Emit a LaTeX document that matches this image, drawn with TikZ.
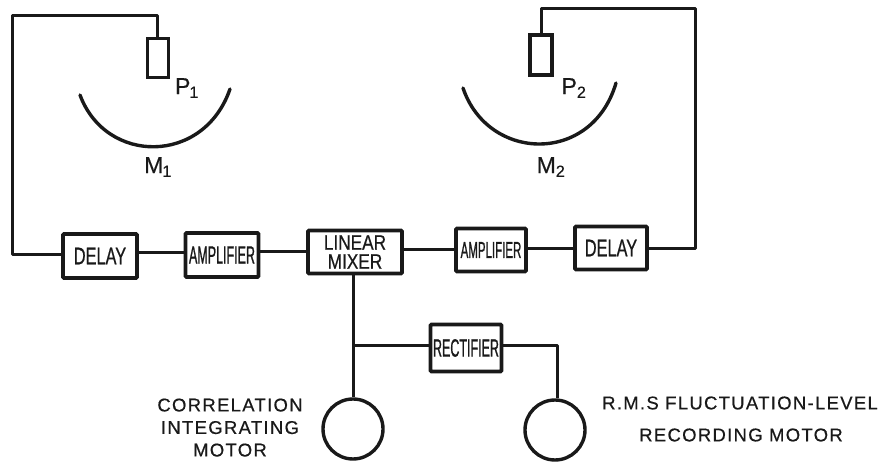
\documentclass[tikz,border=0pt]{standalone}
\usepackage{fontspec}
\setmainfont{Liberation Sans}
\newfontfamily\narrowA[FakeStretch=0.5,FakeBold=0.8]{Liberation Sans}
\newfontfamily\narrowB[FakeStretch=0.68,FakeBold=0.6]{Liberation Sans}
\newfontfamily\narrowC[FakeStretch=0.82,FakeBold=0.5]{Liberation Sans}
\newfontfamily\spaced[LetterSpace=7,FakeBold=0.5]{Liberation Sans}
\newfontfamily\heavy[FakeBold=0.4]{Liberation Sans}
\colorlet{ink}{black!90}
\begin{document}
\begin{tikzpicture}[x=1pt,y=-1pt,
box/.style={draw=ink,text=ink,line width=3.6pt,inner sep=0pt,align=center,rounded corners=1pt},
wire/.style={draw=ink,line width=3pt,line join=round},
motor/.style={draw=ink,line width=3.4pt,circle,minimum size=60pt,inner sep=0pt},
probe/.style={draw=ink,line width=3.2pt,inner sep=0pt},
dish/.style={draw=ink,line width=3.4pt,line cap=round},
lab/.style={font=\spaced\fontsize{18.5}{22.5}\selectfont,align=center,text=ink},
big/.style={font=\heavy\fontsize{23}{24}\selectfont,text=ink}]
\useasboundingbox (0,0) rectangle (879,462);
\node[box,minimum width=74pt,minimum height=44pt,font=\narrowB\fontsize{24}{24}\selectfont] (d1) at (100,256) {DELAY};
\node[box,minimum width=73pt,minimum height=44pt,font=\narrowA\fontsize{25}{25}\selectfont] (a1) at (222,255) {AMPLIFIER};
\node[box,minimum width=94pt,minimum height=43pt,font=\narrowC\fontsize{21}{19}\selectfont] (mx) at (355,252) {LINEAR\\MIXER};
\node[box,minimum width=70pt,minimum height=43pt,font=\narrowA\fontsize{23}{23}\selectfont] (a2) at (491,250) {AMPLIFIER};
\node[box,minimum width=72pt,minimum height=43pt,font=\narrowB\fontsize{24}{24}\selectfont] (d2) at (611,248) {DELAY};
\node[box,minimum width=71pt,minimum height=47pt,font=\narrowA\fontsize{25}{25}\selectfont] (rc) at (466,348) {RECTIFIER};
\node[motor] (m1) at (353,429) {};
\node[motor] (m2) at (555,430) {};
\node[probe,minimum width=21pt,minimum height=39pt] (p1) at (158,58) {};
\node[probe,minimum width=22pt,minimum height=40pt] (p2) at (541,55) {};
\coordinate (c1) at (12,255); \coordinate (c2) at (12,16); \coordinate (c3) at (157,16);
\coordinate (c4) at (541,9); \coordinate (c5) at (695,9); \coordinate (c6) at (695,249);
\coordinate (w1) at (0,253); \coordinate (w2) at (0,252); \coordinate (w3) at (0,250); \coordinate (w4) at (0,249);
\coordinate (w5) at (0,346);
\coordinate (j) at (353,346);
\coordinate (r1) at (557,346);
\draw[wire] (d1.west |- c1) -- (c1) -- (c2) -- (c3) -- (c3 |- p1.north);
\draw[wire] (c4 |- p2.north) -- (c4) -- (c5) -- (c6) -- (d2.east |- c6);
\draw[wire] (d1.east |- w1) -- (a1.west |- w1);
\draw[wire] (a1.east |- w2) -- (mx.west |- w2);
\draw[wire] (mx.east |- w3) -- (a2.west |- w3);
\draw[wire] (a2.east |- w4) -- (d2.west |- w4);
\draw[wire] (j |- mx.south) -- (j |- m1.north);
\draw[wire] (j) -- (rc.west |- w5);
\draw[wire] (rc.east |- w5) -- (r1) -- (r1 |- m2.north);
\coordinate (ma) at (80,95); \coordinate (mb) at (230,89);
\coordinate (na) at (463,88); \coordinate (nb) at (616,83);
\draw[dish] (ma) .. controls (106,165) and (204,165) .. (mb);
\draw[dish] (na) .. controls (488,162) and (592,165) .. (nb);
\node[big] (t1) at (187,88) {P\textsubscript{\kern-1pt 1}};
\node[big] (t2) at (574,88) {P\textsubscript{2}};
\node[big] (t3) at (158,167) {M\textsubscript{\kern-1pt 1}};
\node[big] (t4) at (551,167) {M\textsubscript{2}};
\node[lab,anchor=north] (t5) at (230,395) {CORRELATION\\INTEGRATING\\MOTOR};
\node[lab] (t6) at (740,403) {R.M.S FLUCTUATION-LEVEL};
\node[lab] (t7) at (741,435) {RECORDING MOTOR};
\end{tikzpicture}
\end{document}
